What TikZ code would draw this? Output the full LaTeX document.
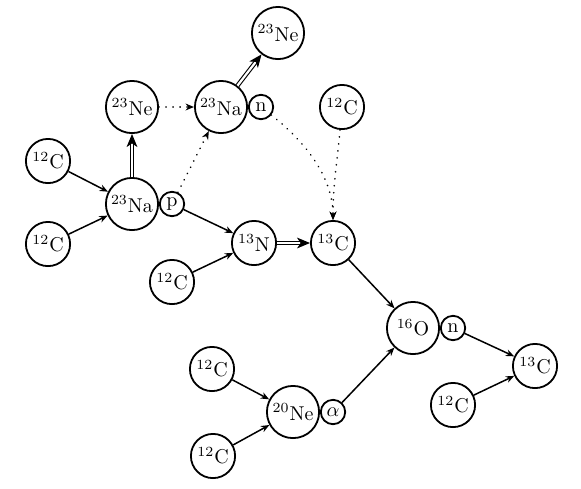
\documentclass[tikz,border=0pt]{standalone}
\usetikzlibrary{arrows.meta}
\begin{document}
\begin{tikzpicture}[x=0.5pt,y=0.5pt,
  nuc/.style={circle,draw,line width=0.9pt,inner sep=0pt},
  big/.style={nuc,minimum size=26.1pt},
  med/.style={nuc,minimum size=22.1pt},
  sml/.style={nuc,minimum size=12.2pt},
  arr/.style={line width=0.75pt,-{Stealth[length=4.2pt,width=3.4pt]}},
  dotarr/.style={arr,line width=0.9pt,line cap=round,dash pattern=on 0.01pt off 3.5pt},
  dbl/.style={double,line width=0.55pt,double distance=1.1pt,-{Stealth[length=6.5pt,width=5.4pt,inset=1.8pt]}}]
\useasboundingbox (0,0) rectangle (581,-488);
\node[big] (ne1) at (278,-33) {$^{23}$Ne};
\node[big] (ne2) at (132,-107) {$^{23}$Ne};
\node[big] (na2) at (221,-107) {$^{23}$Na};
\node[sml] (n2) at (261,-107) {n};
\node[med] (c12a) at (342,-107) {$^{12}$C};
\node[med] (c12b) at (48,-161) {$^{12}$C};
\node[med] (c12c) at (48,-244) {$^{12}$C};
\node[big] (na1) at (132,-204) {$^{23}$Na};
\node[sml] (p) at (172,-204) {p};
\node[med] (n13) at (254,-243) {$^{13}$N};
\node[med] (c13) at (333,-243) {$^{13}$C};
\node[med] (c12d) at (172,-282) {$^{12}$C};
\node[big] (o16) at (413,-328) {$^{16}$O};
\node[sml] (n3) at (453,-328) {n};
\node[med] (c12e) at (212,-369) {$^{12}$C};
\node[big] (ne20) at (293,-412) {$^{20}$Ne};
\node[sml] (al) at (333,-412) {$\alpha$};
\node[med] (c12f) at (213,-456) {$^{12}$C};
\node[med] (c13b) at (535,-366) {$^{13}$C};
\node[med] (c12g) at (453,-405) {$^{12}$C};
\draw[arr] (c12b) -- (na1);
\draw[arr] (c12c) -- (na1);
\draw[dbl] (na1) -- (ne2);
\draw[dotarr] (ne2) -- (na2);
\draw[dbl] (na2) -- (ne1);
\draw[dotarr] (p) -- (na2);
\draw[arr] (p) -- (n13);
\draw[arr] (c12d) -- (n13);
\draw[dbl] (n13) -- (c13);
\draw[dotarr] (n2) to[out=-38,in=90,looseness=0.9] (c13);
\draw[dotarr] (c12a) to[out=-95,in=90] (c13);
\draw[arr] (c13) -- (o16);
\draw[arr] (c12e) -- (ne20);
\draw[arr] (c12f) -- (ne20);
\draw[arr] (al) -- (o16);
\draw[arr] (n3) -- (c13b);
\draw[arr] (c12g) -- (c13b);
\end{tikzpicture}
\end{document}
